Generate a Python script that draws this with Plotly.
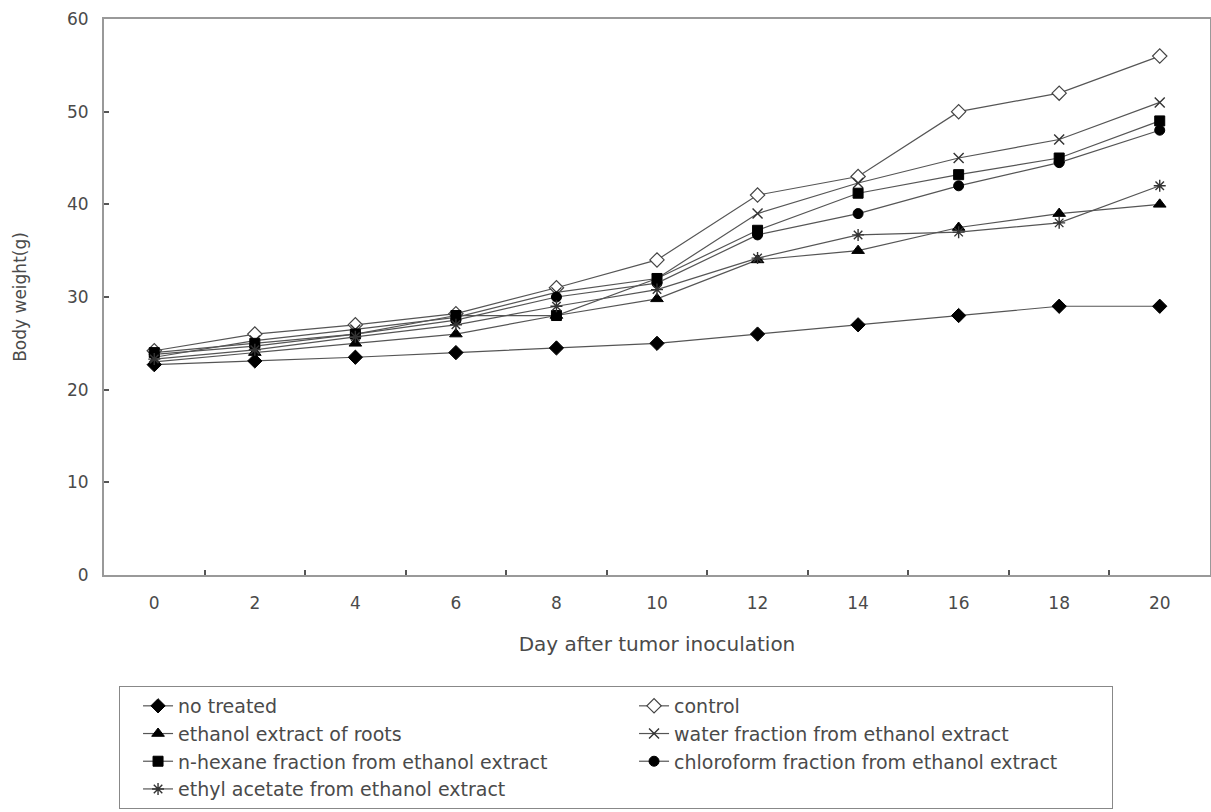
import plotly.graph_objects as go

days = [0, 2, 4, 6, 8, 10, 12, 14, 16, 18, 20]
no_treated = [22.7, 23.1, 23.5, 24.0, 24.5, 25.0, 26.0, 27.0, 28.0, 29.0, 29.0]
control = [24.2, 26.0, 27.0, 28.2, 31.0, 34.0, 41.0, 43.0, 50.0, 52.0, 56.0]
ethanol_roots = [23.0, 24.0, 25.0, 26.0, 28.0, 29.8, 34.0, 35.0, 37.5, 39.0, 40.0]
water_fraction = [23.5, 25.3, 26.5, 27.8, 30.5, 32.0, 39.0, 42.3, 45.0, 47.0, 51.0]
hexane_fraction = [24.0, 25.0, 26.0, 28.0, 28.0, 32.0, 37.2, 41.2, 43.2, 45.0, 49.0]
chloroform_fraction = [23.8, 24.7, 26.0, 27.5, 30.0, 31.5, 36.7, 39.0, 42.0, 44.5, 48.0]
ethyl_acetate = [23.3, 24.3, 25.7, 27.0, 29.0, 30.8, 34.2, 36.7, 37.0, 38.0, 42.0]

y_ticks = [0, 10, 20, 30, 40, 50, 60]

LINE = "#555555"
TXT = "#4a4a4a"
FONT = "DejaVu Sans"

series = [
    ("no treated", no_treated, dict(symbol="diamond", size=11, color="black", line=dict(color="black", width=1))),
    ("control", control, dict(symbol="diamond", size=11, color="white", line=dict(color="#444444", width=1.2))),
    ("ethanol extract of roots", ethanol_roots, dict(symbol="triangle-up", size=11, color="black", line=dict(color="black", width=1))),
    ("water fraction from ethanol extract", water_fraction, dict(symbol="x-thin-open", size=10, color="#333333", line=dict(color="#333333", width=1.4))),
    ("n-hexane fraction from ethanol extract", hexane_fraction, dict(symbol="square", size=10, color="black", line=dict(color="black", width=1))),
    ("chloroform fraction from ethanol extract", chloroform_fraction, dict(symbol="circle", size=10, color="black", line=dict(color="black", width=1))),
    ("ethyl acetate from ethanol extract", ethyl_acetate, dict(symbol="asterisk-open", size=10, color="#333333", line=dict(color="#333333", width=1.4))),
]

fig = go.Figure()
for name, vals, mk in series:
    fig.add_trace(go.Scatter(x=days, y=vals, name=name, mode="lines+markers",
                             line=dict(color=LINE, width=1.2), marker=mk))

fig.update_layout(
    template="none",
    width=1211, height=812, autosize=False,
    paper_bgcolor="white", plot_bgcolor="white",
    margin=dict(l=104, r=1, t=19, b=237),
    font=dict(family=FONT, size=17, color=TXT),
    showlegend=True,
    legend=dict(
        orientation="h", x=0.0136, y=-0.1996, xanchor="left", yanchor="top",
        entrywidth=433, entrywidthmode="pixels",
        bordercolor="#888888", borderwidth=1, bgcolor="white",
        font=dict(family=FONT, size=19, color=TXT),
        indentation=18, itemwidth=30, tracegroupgap=0,
    ),
    xaxis=dict(
        range=[-1, 21], tickmode="array", tickvals=days, ticktext=[str(d) for d in days],
        ticks="", showgrid=False, zeroline=False,
        showline=True, linecolor="#999999", linewidth=2, mirror=True,
        ticklabelstandoff=12,
        tickfont=dict(family=FONT, size=17, color=TXT),
        minor=dict(tickmode="array", tickvals=[1, 3, 5, 7, 9, 11, 13, 15, 17, 19],
                   ticks="inside", ticklen=5, tickcolor="#555555", tickwidth=1.5, showgrid=False),
        title=dict(text="Day after tumor inoculation", standoff=25,
                   font=dict(family=FONT, size=20, color=TXT)),
    ),
    yaxis=dict(
        range=[0, 60], tickmode="array", tickvals=y_ticks,
        ticks="inside", ticklen=5, tickcolor="#555555", tickwidth=1.5,
        showgrid=False, zeroline=False,
        showline=True, linecolor="#999999", linewidth=2, mirror=True,
        ticklabelstandoff=10,
        tickfont=dict(family=FONT, size=17, color=TXT),
        title=dict(text="Body weight(g)", standoff=36,
                   font=dict(family=FONT, size=17, color=TXT)),
    ),
)

fig.write_html(
    "out.html",
    config={"responsive": False, "displayModeBar": False},
    post_script="document.body.style.margin='0';document.body.style.overflow='hidden';",
)
